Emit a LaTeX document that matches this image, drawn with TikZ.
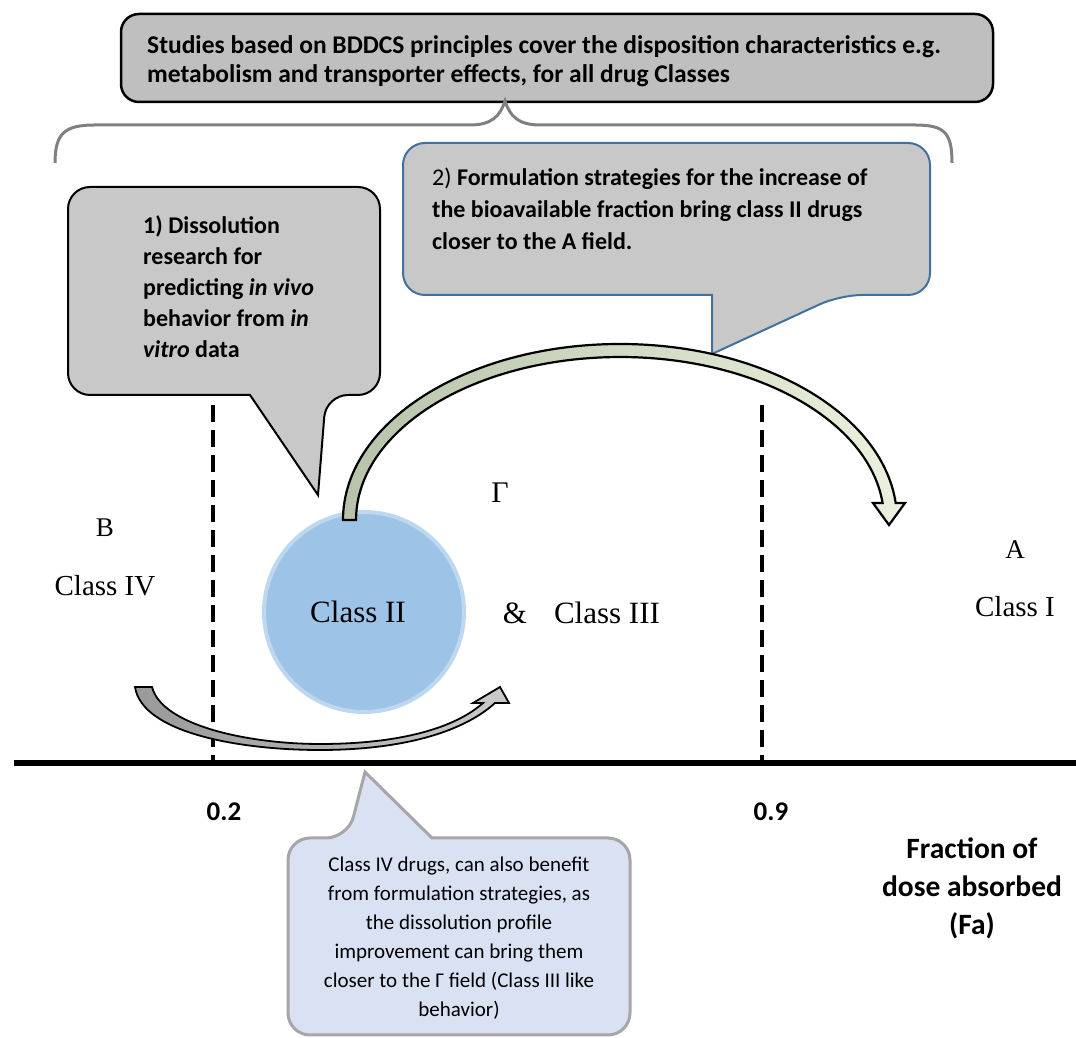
\documentclass[tikz,border=0pt]{standalone}
\usepackage{fontspec}
\setmainfont{Liberation Serif}
\newfontfamily\calibri{Carlito}
\usepackage{xcolor}
\usepackage{tikz}
\usetikzlibrary{positioning}

\definecolor{topgray}{HTML}{BFBFBF}
\definecolor{callgray}{HTML}{C8C8C8}
\definecolor{callblue}{HTML}{41719C}
\definecolor{lavender}{HTML}{DAE1F2}
\definecolor{lavedge}{HTML}{A6A6A6}
\definecolor{bracegray}{HTML}{808080}
\definecolor{circfill}{HTML}{9DC3E6}
\definecolor{circedge}{HTML}{BDD7EE}
\definecolor{greendark}{HTML}{B6C3AA}
\definecolor{greenlight}{HTML}{EBF1DE}
\definecolor{graydark}{HTML}{999999}
\definecolor{graylight}{HTML}{CACACA}

\begin{document}
\begin{tikzpicture}[x=1pt,y=1pt]
						\tikzstyle{callout}=[draw=black,line width=2pt,fill=callgray,rounded corners=22pt]
						\tikzstyle{sans}=[inner sep=0pt,font=\calibri\bfseries\fontsize{24}{31}\selectfont]
						\tikzstyle{serif}=[inner sep=0pt,font=\fontsize{29}{33}\selectfont]
						\tikzstyle{limit}=[line width=4pt,dash pattern=on 17pt off 8pt]
						\useasboundingbox (0,0) rectangle (1076,1038);
						% top box and brace
						\draw[callout,fill=topgray,line width=2.5pt,rounded corners=18pt] (121,936) rectangle (993,1024);
						\node[sans,font=\calibri\bfseries\fontsize{25.5}{29}\selectfont,anchor=west,align=left](bddcs) at (147,977) {Studies based on BDDCS principles cover the disposition characteristics e.g.\\metabolism and transporter effects, for all drug Classes};
						\draw[bracegray,line width=3pt] (55,875) .. controls (55,905) and (65,913) .. (95,913) -- (470,913) .. controls (492,913) and (500,922) .. (505,937) .. controls (510,922) and (518,913) .. (540,913) -- (915,913) .. controls (945,913) and (952,905) .. (952,875);
						% callout 1
						\draw[callout] (68,750) |- (380,851) |- (326,643) [sharp corners]-- (318,543) -- (250,643) [rounded corners=22pt]-- (68,643) -- cycle;
						\node[sans,anchor=west,align=left](dissol) at (143,751) {1) Dissolution\\research for\\predicting \textit{in vivo}\\behavior from \textit{in}\\\textit{vitro} data};
						% callout 2
						\draw[callout,draw=callblue] (403,820) |- (930,895) |- (840,743) [sharp corners]-- (712,684) -- (712,743) [rounded corners=22pt]-- (403,743) -- cycle;
						\node[sans,font=\calibri\bfseries\fontsize{24}{32}\selectfont,anchor=west,align=left](formul) at (432,829) {\mdseries 2) \bfseries Formulation strategies for the increase of\\the bioavailable fraction bring class II drugs\\closer to the A field.};
						% limits and axis
						\draw[limit] (213,633) -- (213,278);
						\draw[limit] (762,633) -- (762,278);
						\draw[line width=6pt] (14,275) -- (1076,275);
						% class II circle
						\node[circle,minimum size=200pt,fill=circfill,draw=circedge,line width=4pt](c2) at (364,426) {};
						\node[serif,font=\fontsize{31}{33}\selectfont](class2) at (358,426) {Class II};
						% curved arrows
						\shadedraw[left color=greendark,right color=greenlight,draw=black,line width=2.2pt] (343,518) arc[start angle=180,end angle=5.5,x radius=277,y radius=176] -- (905,535) -- (889,513) -- (873,535) -- (882.6,535) arc[start angle=6,end angle=180,x radius=264,y radius=163] -- cycle;
						\shadedraw[left color=graydark,right color=graylight,draw=black,line width=1.8pt] (135,351) .. controls (142,305) and (240,288) .. (320,288) .. controls (400,288) and (462,305) .. (495,335) -- (509,335) -- (500,351) -- (473,335) -- (483,335) .. controls (455,310) and (400,294) .. (320,294) .. controls (250,294) and (162,312) .. (152,351) -- cycle;
						% field labels
						\node[serif,font=\fontsize{27}{33}\selectfont](fieldB) at (105,510) {B};
						\node[serif](class4) at (105,452) {Class IV};
						\node[serif,font=\fontsize{30}{33}\selectfont](fieldG) at (500,545) {Γ};
						\node[serif,font=\fontsize{31}{33}\selectfont](amp) at (515,425) {\&};
						\node[serif,font=\fontsize{31}{33}\selectfont](class3) at (607,425) {Class III};
						\node[serif,font=\fontsize{27}{33}\selectfont](fieldA) at (1015,488) {A};
						\node[serif](class1) at (1015,431) {Class I};
						% axis labels
						\node[sans,font=\calibri\bfseries\fontsize{27}{30}\selectfont](low) at (224,226) {0.2};
						\node[sans,font=\calibri\bfseries\fontsize{27}{30}\selectfont](high) at (771,226) {0.9};
						\node[sans,font=\calibri\bfseries\fontsize{29.5}{38}\selectfont,align=center](fa) at (972,150) {Fraction of\\dose absorbed\\(Fa)};
						% callout 3
						\draw[callout,fill=lavender,draw=lavedge,line width=3pt] (288,100) |- (348,200) [sharp corners]-- (365,266) -- (432,200) [rounded corners=22pt]-| (630,3) -| cycle;
						\node[sans,font=\calibri\fontsize{21}{29}\selectfont,align=center](class4note) at (459,100) {Class IV drugs, can also benefit\\from formulation strategies, as\\the dissolution profile\\improvement can bring them\\closer to the Γ field (Class III like\\behavior)};
					\end{tikzpicture}
\end{document}
